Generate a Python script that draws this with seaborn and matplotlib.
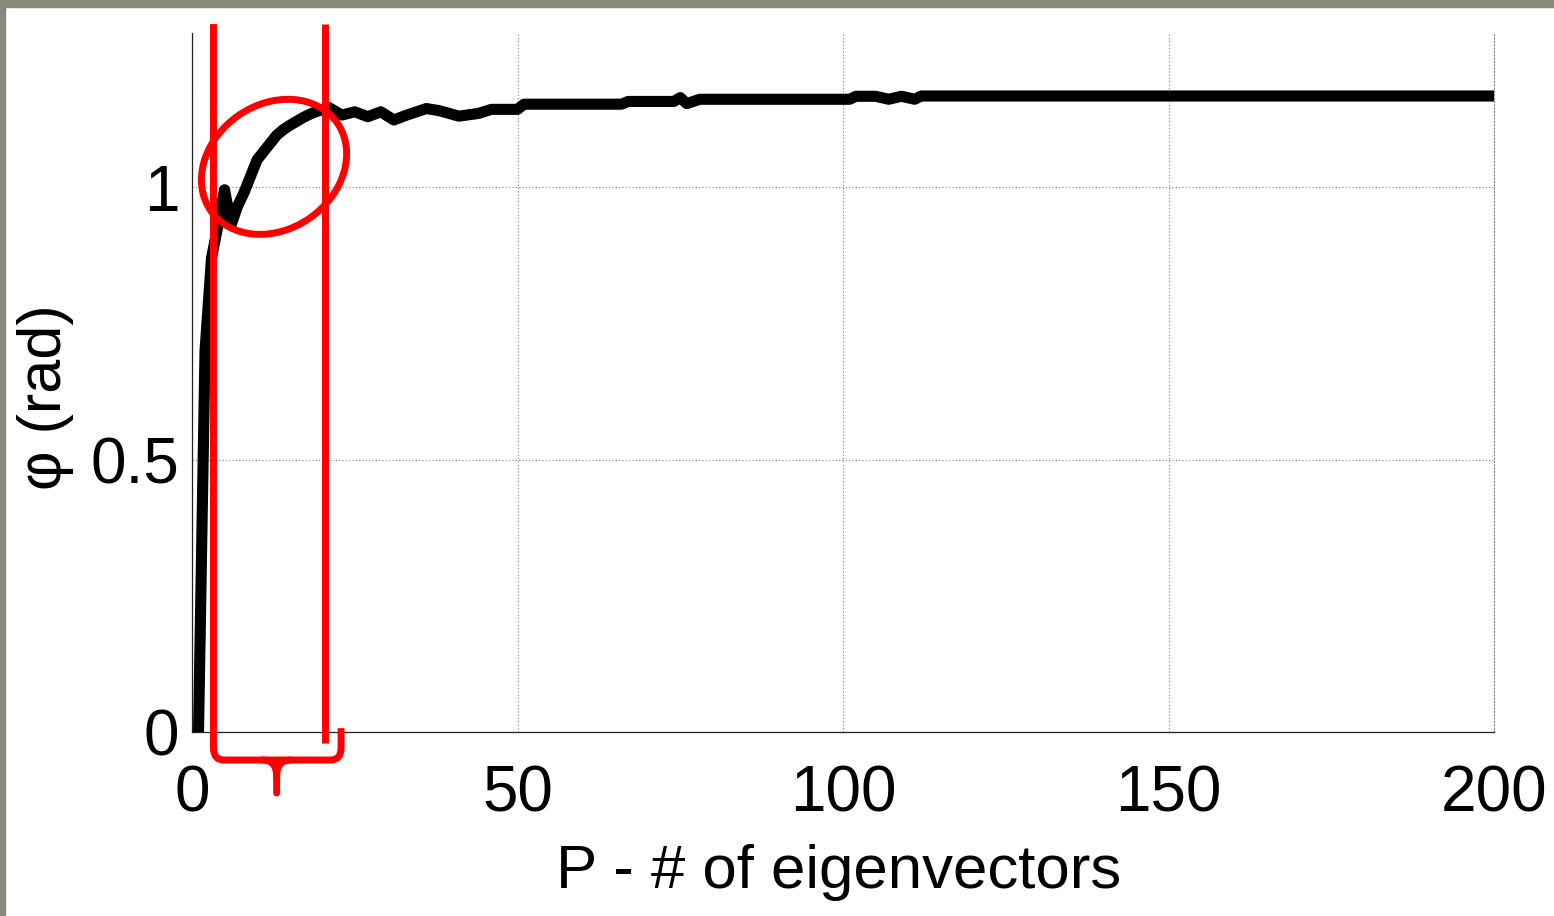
import matplotlib
matplotlib.use("Agg")
import matplotlib.pyplot as plt
import seaborn as sns
import pandas as pd
from matplotlib.patches import Ellipse, Rectangle, PathPatch
from matplotlib.path import Path
from matplotlib.transforms import IdentityTransform

# ---- data ----
P = [1, 2, 3, 4, 5, 6, 7, 8, 9, 10, 11, 12, 13, 14, 15, 16, 17, 18, 19, 20, 21,
     23, 25, 27, 29, 31, 33, 36, 38, 41, 44, 46, 50, 51, 66, 67, 74, 75, 76, 78,
     101, 102, 105, 107, 109, 111, 112, 200]
phi = [0.0, 0.70, 0.87, 0.93, 0.995, 0.93, 0.965, 0.99, 1.02, 1.05, 1.065, 1.08,
       1.095, 1.105, 1.113, 1.12, 1.127, 1.133, 1.138, 1.142, 1.146,
       1.132, 1.138, 1.129, 1.138, 1.123, 1.132, 1.144, 1.140, 1.130, 1.135, 1.1425,
       1.1425, 1.152, 1.152, 1.157, 1.157, 1.164, 1.153, 1.161,
       1.161, 1.1665, 1.1665, 1.161, 1.1665, 1.161, 1.167, 1.167]
x_ticks = [0, 50, 100, 150, 200]
y_ticks = [0, 0.5, 1]
y_tick_labels = ["0", "0.5", "1"]
x_label = "P - # of eigenvectors"
y_label = "\u03c6 (rad)"
range_lo, range_hi = 3.3, 20.4      # highlighted range of P
brace_right = 22.9

# ---- style ----
sns.set_theme(style="white")
plt.rcParams["font.family"] = ["Liberation Sans", "DejaVu Sans"]

W, H = 1554, 916
fig = plt.figure(figsize=(W / 100, H / 100), dpi=100)
fig.patch.set_facecolor("white")
# grey frame of the slide (top and left bands)
frame_col = "#878a7b"
fig.patches.append(Rectangle((0, 1 - 7 / H), 1, 7 / H, transform=fig.transFigure,
                             color=frame_col, zorder=-5))
fig.patches.append(Rectangle((0, 0), 5 / W, 1, transform=fig.transFigure,
                             color=frame_col, zorder=-5))

ax = fig.add_axes([192 / W, 184 / H, 1302 / W, 699 / H])
df = pd.DataFrame({"P": P, "phi": phi})
sns.lineplot(data=df, x="P", y="phi", ax=ax, color="black", lw=8,
             estimator=None, sort=False, legend=False)

ax.set_xlim(0, 200)
ax.set_ylim(0, 1.2826)
ax.set_xticks(x_ticks)
ax.set_xticklabels([str(t) for t in x_ticks])
ax.set_yticks(y_ticks)
ax.set_yticklabels(y_tick_labels)
ax.grid(True, color="#808080", linestyle=(0, (1, 2)), lw=0.8)

for s in ["left", "bottom"]:
    ax.spines[s].set_visible(True)
    ax.spines[s].set_color("#222222")
    ax.spines[s].set_linewidth(0.9)
ax.spines["top"].set_visible(False)
ax.spines["right"].set_visible(True)
ax.spines["right"].set_color("#808080")
ax.spines["right"].set_linestyle((0, (1, 2)))
ax.spines["right"].set_linewidth(0.8)

ax.tick_params(axis="both", direction="in", length=11, width=0.9, color="#222222",
               labelsize=46, labelcolor="black")
ax.tick_params(axis="x", pad=23.5)
ax.tick_params(axis="y", pad=9)

ax.set_xlabel(x_label, fontsize=44.5, color="black", va="center")
ax.xaxis.set_label_coords(0.497, -0.201)
ax.set_ylabel(y_label, fontsize=44, color="black", va="center")
ax.yaxis.set_label_coords(-0.1129, 0.479)

# ---- red annotations ----
red = "#ff0000"
rlw = 5.0
ytop = 1.299
ax.plot([range_hi, range_hi], [ytop, -0.02], color=red, lw=rlw, clip_on=False,
        solid_capstyle="butt", zorder=5)

ybar = -0.0514
ytip = -0.112
yend_r = 0.007
dx = 1.6
dy = 0.022
mid = (range_lo + brace_right) / 2 - 0.1
verts = [(range_lo, ytop), (range_lo, ybar + dy), (range_lo, ybar), (range_lo + dx, ybar),
         (brace_right - dx, ybar), (brace_right, ybar), (brace_right, ybar + dy),
         (brace_right, yend_r)]
codes = [Path.MOVETO, Path.LINETO, Path.CURVE3, Path.CURVE3,
         Path.LINETO, Path.CURVE3, Path.CURVE3, Path.LINETO]
ax.add_patch(PathPatch(Path(verts, codes), fill=False, edgecolor=red, lw=rlw,
                       clip_on=False, zorder=5, capstyle="butt", joinstyle="round"))
stem = [(mid - 2.2, ybar), (mid, ybar), (mid, ybar - 0.03), (mid, ytip),
        (mid + 2.2, ybar), (mid, ybar), (mid, ybar - 0.03)]
stem_codes = [Path.MOVETO, Path.CURVE3, Path.CURVE3, Path.LINETO,
              Path.MOVETO, Path.CURVE3, Path.CURVE3]
ax.add_patch(PathPatch(Path(stem, stem_codes), fill=False, edgecolor=red, lw=rlw,
                       clip_on=False, zorder=5, capstyle="round"))

# ellipse around the knee of the curve (drawn in pixel units for a true ellipse)
ell_center_data = (12.6, 1.037)
cx, cy = ax.transData.transform(ell_center_data)
ell = Ellipse((cx, cy), 154, 125, angle=34.7, transform=IdentityTransform(),
              fill=False, edgecolor=red, lw=rlw, zorder=6)
fig.patches.append(ell)

fig.savefig("out.png", dpi=100, facecolor="white")
